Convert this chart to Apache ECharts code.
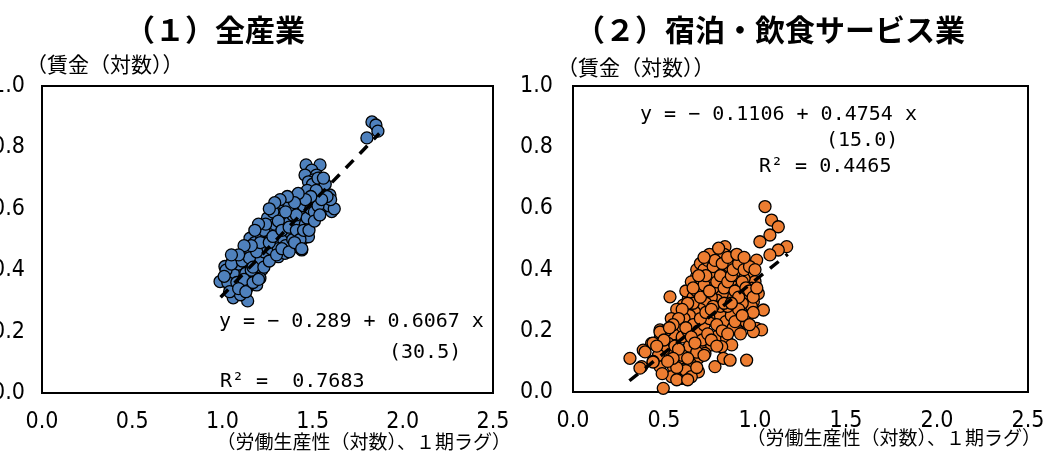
<!DOCTYPE html>
<html>
<head>
<meta charset="utf-8">
<script src="https://cdn.jsdelivr.net/npm/echarts@6/dist/echarts.min.js"></script>
<style>
  html, body { margin: 0; padding: 0; background: #fff; }
  #chart { width: 1045px; height: 454px; }
</style>
</head>
<body>
<div id="chart"></div>
<script>
// Panel titles and axis names
const panelTitles = ['（１）全産業', '（２）宿泊・飲食サービス業'];
const yAxisName = '（賃金（対数））';
const xAxisName = '（労働生産性（対数）、１期ラグ）';

// Axis ranges: [min, max, interval]
const xRange = [0, 2.5, 0.5];
const yRange = [0, 1.0, 0.2];

// (1) All industries: [labour productivity (log, lagged), wage (log)]
const allIndustries = [
  [1.464,0.743],[1.541,0.743],[1.495,0.726],[1.458,0.710],[1.522,0.710],[1.541,0.700],[1.504,0.694],[1.477,0.688],[1.550,0.683],[1.532,0.672],
  [1.458,0.650],[1.495,0.656],[1.560,0.656],[1.596,0.645],[1.541,0.634],[1.513,0.650],[1.449,0.629],[1.412,0.634],[1.384,0.629],[1.477,0.612],
  [1.513,0.612],[1.560,0.601],[1.587,0.601],[1.606,0.591],[1.440,0.607],[1.356,0.612],[1.329,0.601],[1.301,0.607],[1.273,0.591],[1.347,0.591],
  [1.375,0.596],[1.412,0.585],[1.458,0.580],[1.486,0.591],[1.282,0.575],[1.255,0.558],[1.301,0.558],[1.227,0.542],[1.236,0.526],[1.282,0.526],
  [1.319,0.531],[1.356,0.537],[1.393,0.537],[1.440,0.531],[1.449,0.504],[1.477,0.509],[1.421,0.504],[1.375,0.504],[1.329,0.509],[1.292,0.498],
  [1.255,0.498],[1.208,0.509],[1.181,0.520],[1.153,0.504],[1.199,0.482],[1.245,0.477],[1.282,0.466],[1.329,0.471],[1.375,0.471],[1.412,0.477],
  [1.440,0.466],[1.310,0.444],[1.347,0.455],[1.264,0.444],[1.218,0.444],[1.190,0.433],[1.144,0.466],[1.125,0.450],[1.079,0.439],[1.051,0.423],
  [1.014,0.412],[1.042,0.396],[1.088,0.406],[1.125,0.417],[1.162,0.417],[1.116,0.384],[1.079,0.374],[1.042,0.374],[1.144,0.374],[1.181,0.384],
  [1.218,0.401],[1.208,0.374],[0.987,0.363],[1.070,0.347],[1.107,0.347],[1.144,0.347],[1.190,0.352],[1.125,0.319],[1.070,0.319],[1.042,0.347],
  [1.30,0.52],[1.34,0.56],[1.38,0.55],[1.42,0.56],[1.46,0.55],[1.40,0.60],[1.36,0.57],[1.32,0.58],[1.27,0.55],[1.24,0.50],
  [1.22,0.47],[1.26,0.52],[1.30,0.49],[1.34,0.50],[1.38,0.52],[1.44,0.59],[1.48,0.62],[1.52,0.63],[1.55,0.66],[1.50,0.68],
  [1.53,0.70],[1.47,0.66],[1.43,0.62],[1.39,0.58],[1.17,0.45],[1.14,0.43],[1.10,0.40],[1.06,0.39],[1.03,0.36],[1.09,0.42],
  [1.13,0.39],[1.16,0.40],[1.20,0.43],[1.23,0.46],[1.27,0.47],[1.31,0.47],[1.35,0.48],[1.18,0.49],[1.15,0.47],[1.21,0.52],
  [1.25,0.57],[1.28,0.59],[1.33,0.62],[1.37,0.61],[1.41,0.58],[1.45,0.61],[1.57,0.62],[1.59,0.61],[1.62,0.60],[1.60,0.63],[1.58,0.64],
  [1.06,0.31],[1.14,0.30],[1.10,0.32],
  [1.02,0.40],[1.05,0.42],[1.08,0.36],[1.11,0.43],[1.12,0.37],[1.15,0.44],[1.17,0.41],[1.19,0.46],[1.21,0.49],[1.23,0.53],
  [1.26,0.49],[1.28,0.51],[1.29,0.55],[1.31,0.56],[1.33,0.53],[1.35,0.59],[1.37,0.54],[1.39,0.50],[1.41,0.53],[1.43,0.50],
  [1.45,0.53],[1.47,0.57],[1.49,0.60],[1.51,0.59],[1.53,0.61],[1.55,0.63],[1.57,0.68],[1.52,0.66],[1.49,0.64],[1.46,0.63],
  [1.42,0.65],[1.40,0.62],[1.36,0.64],[1.32,0.63],[1.29,0.62],[1.26,0.60],[1.24,0.55],[1.20,0.55],[1.18,0.53],[1.16,0.48],
  [1.12,0.48],[1.09,0.45],[1.05,0.45],[1.01,0.38],[1.04,0.33],[1.09,0.34],[1.13,0.33],[1.17,0.36],[1.20,0.37],[1.23,0.41],
  [1.26,0.43],[1.30,0.45],[1.33,0.47],[1.37,0.46],[1.40,0.49],[1.44,0.47],[1.48,0.53],[1.51,0.56],[1.54,0.58],[1.56,0.70],
  [1.829,0.883],[1.851,0.873],[1.862,0.853],[1.801,0.831]
];

// (2) Accommodation and food services
const accommodationFood = [
  [1.055,0.606],[1.091,0.562],[1.128,0.540],[1.082,0.513],[1.027,0.491],[1.174,0.475],[1.128,0.464],[1.082,0.448],[1.009,0.431],[0.835,0.475],
  [0.753,0.442],[0.881,0.442],[0.844,0.426],[0.936,0.426],[0.954,0.410],[0.909,0.410],[0.853,0.393],[0.771,0.410],[0.753,0.388],[0.725,0.377],
  [0.679,0.377],[0.670,0.355],[0.698,0.344],[0.780,0.350],[0.817,0.366],[0.890,0.371],[0.918,0.355],[0.963,0.388],[1.000,0.361],[1.018,0.322],
  [0.982,0.339],[1.046,0.268],[0.991,0.295],[0.954,0.317],[0.909,0.322],[0.853,0.328],[0.753,0.322],[0.707,0.311],[0.661,0.295],[0.634,0.306],
  [0.606,0.284],[0.533,0.311],[0.588,0.257],[0.643,0.268],[0.689,0.279],[0.753,0.279],[0.808,0.284],[0.844,0.273],[0.890,0.268],[0.927,0.252],
  [0.954,0.224],[1.009,0.208],[1.036,0.203],[0.991,0.197],[0.890,0.214],[0.844,0.230],[0.789,0.241],[0.734,0.230],[0.698,0.241],[0.634,0.224],
  [0.597,0.230],[0.560,0.208],[0.533,0.186],[0.478,0.203],[0.514,0.175],[0.487,0.165],[0.432,0.159],[0.386,0.137],[0.313,0.110],[0.377,0.083],
  [0.460,0.099],[0.478,0.083],[0.542,0.132],[0.588,0.110],[0.634,0.143],[0.661,0.159],[0.707,0.159],[0.743,0.170],[0.789,0.181],[0.844,0.176],
  [0.872,0.154],[0.817,0.148],[0.762,0.154],[0.725,0.126],[0.688,0.110],[0.643,0.094],[0.606,0.072],[0.551,0.083],[0.542,0.050],[0.597,0.045],
  [0.689,0.066],[0.780,0.083],[0.826,0.110],[0.863,0.104],[0.954,0.104],[0.496,0.012],[0.615,0.045],
  [0.62,0.33],[0.65,0.36],[0.68,0.40],[0.70,0.42],[0.72,0.40],[0.74,0.35],[0.76,0.37],[0.78,0.39],[0.80,0.35],[0.82,0.40],
  [0.84,0.38],[0.86,0.41],[0.88,0.35],[0.90,0.38],[0.92,0.34],[0.94,0.37],[0.96,0.30],[0.98,0.28],[0.93,0.29],[0.89,0.30],
  [0.86,0.31],[0.82,0.32],[0.79,0.30],[0.76,0.31],[0.73,0.29],[0.70,0.27],[0.67,0.26],[0.64,0.25],[0.61,0.24],[0.58,0.21],
  [0.55,0.19],[0.52,0.16],[0.50,0.14],[0.47,0.12],[0.44,0.10],[0.56,0.15],[0.60,0.18],[0.63,0.20],[0.66,0.22],[0.69,0.20],
  [0.72,0.22],[0.75,0.24],[0.78,0.26],[0.81,0.25],[0.84,0.23],[0.87,0.25],[0.91,0.27],[0.95,0.23],[0.99,0.26],[0.60,0.12],
  [0.64,0.15],[0.68,0.13],[0.71,0.17],[0.74,0.19],[0.66,0.31],[0.71,0.33],[0.77,0.34],[0.81,0.28],[0.85,0.28],[0.88,0.21],
  [0.92,0.19],[0.70,0.37],[0.74,0.43],[0.80,0.44],[0.83,0.45],[0.77,0.41],[0.57,0.27],[0.54,0.24],[0.51,0.20],[0.48,0.18],
  [0.62,0.07],[0.65,0.05],[0.57,0.08],[0.396,0.131],[0.44,0.098],[0.478,0.196],[0.44,0.16],[0.368,0.078],
  [0.66,0.29],[0.68,0.33],[0.70,0.31],[0.72,0.35],[0.73,0.38],[0.75,0.33],[0.77,0.28],[0.79,0.36],[0.81,0.38],[0.83,0.34],
  [0.85,0.36],[0.87,0.38],[0.89,0.33],[0.91,0.31],[0.93,0.36],[0.95,0.34],[0.97,0.33],[0.99,0.31],[1.01,0.34],[0.75,0.45],
  [0.78,0.43],[0.82,0.42],[0.85,0.44],[0.88,0.40],[0.91,0.42],[0.94,0.40],[0.97,0.41],[0.72,0.44],[0.69,0.38],[0.66,0.34],
  [0.63,0.29],[0.60,0.27],[0.58,0.24],[0.55,0.22],[0.53,0.21],[0.50,0.17],[0.46,0.15],[0.62,0.21],[0.65,0.18],[0.67,0.16],
  [0.70,0.24],[0.73,0.26],[0.76,0.27],[0.79,0.22],[0.82,0.20],[0.85,0.19],[0.89,0.23],[0.93,0.25],[0.97,0.22],[0.76,0.17],
  [0.79,0.15],[0.72,0.12],[0.68,0.08],[0.63,0.11],[0.58,0.14],[0.55,0.11],[0.52,0.10],[0.49,0.06],[0.57,0.04],[0.63,0.04],
  [0.83,0.29],[0.87,0.29],[0.90,0.45],[0.80,0.47],[0.94,0.44],[1.00,0.40]
];

// Regression fits: [intercept, slope], t-value, R², and x extent of the fitted line
const fitAllCoef = [-0.289, 0.6067];
const fitAllT = '30.5';
const fitAllR2 = '0.7683';
const fitAllSpan = [0.99, 1.87];
const fitFoodCoef = [-0.1106, 0.4754];
const fitFoodT = '15.0';
const fitFoodR2 = '0.4465';
const fitFoodSpan = [0.31, 1.18];

const fitLine = (coef, span) => span.map(x => [x, coef[0] + coef[1] * x]);
const fmtCoef = v => (v < 0 ? '− ' : '') + String(Math.abs(v));

const NUM_FONT = '"Liberation Sans Narrow", "DejaVu Sans Condensed", "Liberation Sans", sans-serif';
const MONO_FONT = '"DejaVu Sans Mono", "Liberation Mono", monospace';
const CJK_FONT = '"Noto Sans CJK JP", sans-serif';

const grids = [
  { left: 42, top: 86, width: 451, height: 307 },
  { left: 573, top: 86, width: 455, height: 306 }
];
const yLabelMargins = [17, 20];

function makeX(i) {
  return {
    type: 'value', gridIndex: i, min: xRange[0], max: xRange[1], interval: xRange[2],
    axisLine: { show: false }, axisTick: { show: false }, splitLine: { show: false },
    axisLabel: { formatter: v => v.toFixed(1), color: '#000', fontSize: 23, fontFamily: NUM_FONT, margin: 18 }
  };
}
function makeY(i) {
  return {
    type: 'value', gridIndex: i, min: yRange[0], max: yRange[1], interval: yRange[2],
    axisLine: { show: false }, axisTick: { show: false }, splitLine: { show: false },
    axisLabel: { formatter: v => v.toFixed(1), color: '#000', fontSize: 23, fontFamily: NUM_FONT, margin: yLabelMargins[i] },
    name: yAxisName, nameLocation: 'end', nameGap: 8,
    nameTextStyle: { color: '#000', fontSize: 21, fontFamily: CJK_FONT, align: 'left', padding: [0, 0, 0, -16] }
  };
}

function scatter(i, data, color) {
  return {
    type: 'scatter', xAxisIndex: i, yAxisIndex: i, data: data, symbolSize: 12, z: 2,
    itemStyle: { color: color, borderColor: '#000', borderWidth: 1.3, opacity: 1 },
    silent: true
  };
}
function fit(i, coef, span) {
  return {
    type: 'line', xAxisIndex: i, yAxisIndex: i, data: fitLine(coef, span), symbol: 'none', z: 5,
    lineStyle: { color: '#000', width: 3.5, type: [11, 9] }, silent: true
  };
}

const textEl = (x, y, text, font, align) => ({
  type: 'text', x: x, y: y, z: 10,
  style: { text: text, font: font, fill: '#000', textAlign: align || 'left', textVerticalAlign: 'middle' }
});
const eqFont = '20px ' + MONO_FONT;
const titleFont = 'bold 30px ' + CJK_FONT;
const xNameFont = '19px ' + CJK_FONT;

const chart = echarts.init(document.getElementById('chart'));
chart.setOption({
  animation: false,
  backgroundColor: '#fff',
  grid: grids.map(g => Object.assign({
    show: true, borderColor: '#000', borderWidth: 2, backgroundColor: 'transparent',
    containLabel: false, outerBoundsMode: 'none'
  }, g)),
  xAxis: [makeX(0), makeX(1)],
  yAxis: [makeY(0), makeY(1)],
  series: [
    scatter(0, allIndustries, '#4F81BD'),
    fit(0, fitAllCoef, fitAllSpan),
    scatter(1, accommodationFood, '#ED7D31'),
    fit(1, fitFoodCoef, fitFoodSpan)
  ],
  graphic: [
    textEl(215, 30, panelTitles[0], titleFont, 'center'),
    textEl(770, 30, panelTitles[1], titleFont, 'center'),
    // x-axis names, right-aligned under each plot
    textEl(511, 442, xAxisName, xNameFont, 'right'),
    textEl(1041, 438, xAxisName, xNameFont, 'right'),
    textEl(219, 322, 'y = ' + fmtCoef(fitAllCoef[0]) + ' + ' + fitAllCoef[1] + ' x', eqFont),
    textEl(389, 353, '(' + fitAllT + ')', eqFont),
    textEl(220, 382, 'R² =  ' + fitAllR2, eqFont),
    textEl(640, 115, 'y = ' + fmtCoef(fitFoodCoef[0]) + ' + ' + fitFoodCoef[1] + ' x', eqFont),
    textEl(826, 141, '(' + fitFoodT + ')', eqFont),
    textEl(759, 167, 'R² = ' + fitFoodR2, eqFont)
  ]
});
</script>
</body>
</html>
